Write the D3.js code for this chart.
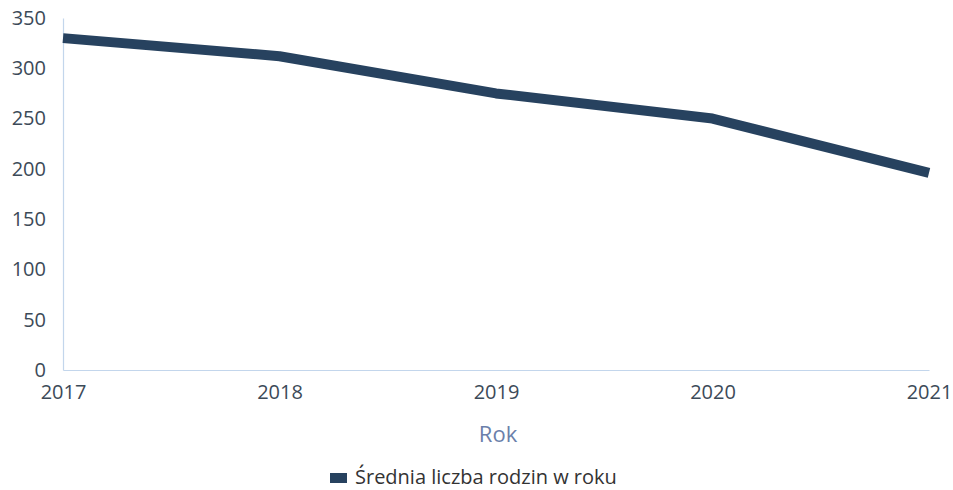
<!DOCTYPE html>
<html>
<head>
<meta charset="utf-8">
<script src="https://cdn.jsdelivr.net/npm/d3@7"></script>
<style>
  html, body { margin: 0; padding: 0; background: #ffffff; }
  svg { display: block; font-family: "Open Sans", sans-serif; }
</style>
</head>
<body>
<svg id="chart" width="953" height="490"></svg>
<script>
// Average number of families per year
const years = ["2017", "2018", "2019", "2020", "2021"];
const families = [330, 312, 275, 250, 196];
const yTicks = [0, 50, 100, 150, 200, 250, 300, 350];
const xTitle = "Rok";
const seriesName = "Średnia liczba rodzin w roku";

const svg = d3.select("#chart");
const margin = { left: 63, right: 24, top: 18, bottom: 120 };
const W = 953, H = 490;

const x = d3.scalePoint().domain(years).range([margin.left, W - margin.right]);
const y = d3.scaleLinear().domain([0, 350]).range([H - margin.bottom, margin.top]);

const lineColor = "#27425f";
const axisColor = "#c3d6ec";
const tickColor = "#3c4a58";
const font = "'Open Sans', sans-serif";

// y axis
const yAxis = svg.append("g")
  .attr("transform", `translate(${margin.left},0)`)
  .call(d3.axisLeft(y).tickValues(yTicks).tickSize(0).tickPadding(17));
yAxis.attr("font-family", font).attr("font-size", 20);
yAxis.select(".domain").attr("stroke", axisColor).attr("stroke-width", 1.2);
yAxis.selectAll("text").attr("fill", tickColor);

// x axis
const xAxis = svg.append("g")
  .attr("transform", `translate(0,${H - margin.bottom})`)
  .call(d3.axisBottom(x).tickSize(0).tickPadding(15));
xAxis.attr("font-family", font).attr("font-size", 20);
xAxis.select(".domain").attr("stroke", axisColor).attr("stroke-width", 1.2);
xAxis.selectAll("text").attr("fill", tickColor);

// x axis title
svg.append("text")
  .attr("x", (margin.left + W - margin.right) / 2 + 2)
  .attr("y", 442)
  .attr("text-anchor", "middle")
  .attr("fill", "#6b80aa")
  .style("font-size", "22px")
  .text(xTitle);

// series line
const line = d3.line()
  .x((d, i) => x(years[i]))
  .y(d => y(d));

svg.append("path")
  .datum(families)
  .attr("d", line)
  .attr("fill", "none")
  .attr("stroke", lineColor)
  .attr("stroke-width", 10)
  .attr("stroke-linejoin", "round")
  .attr("stroke-linecap", "butt");

// legend
const lg = svg.append("g").attr("transform", "translate(330,478)");
lg.append("rect")
  .attr("x", 0).attr("y", -5)
  .attr("width", 17).attr("height", 10)
  .attr("fill", lineColor);
lg.append("text")
  .attr("x", 25).attr("y", 6)
  .attr("fill", "#333333")
  .style("font-size", "20px")
  .text(seriesName);
</script>
</body>
</html>
